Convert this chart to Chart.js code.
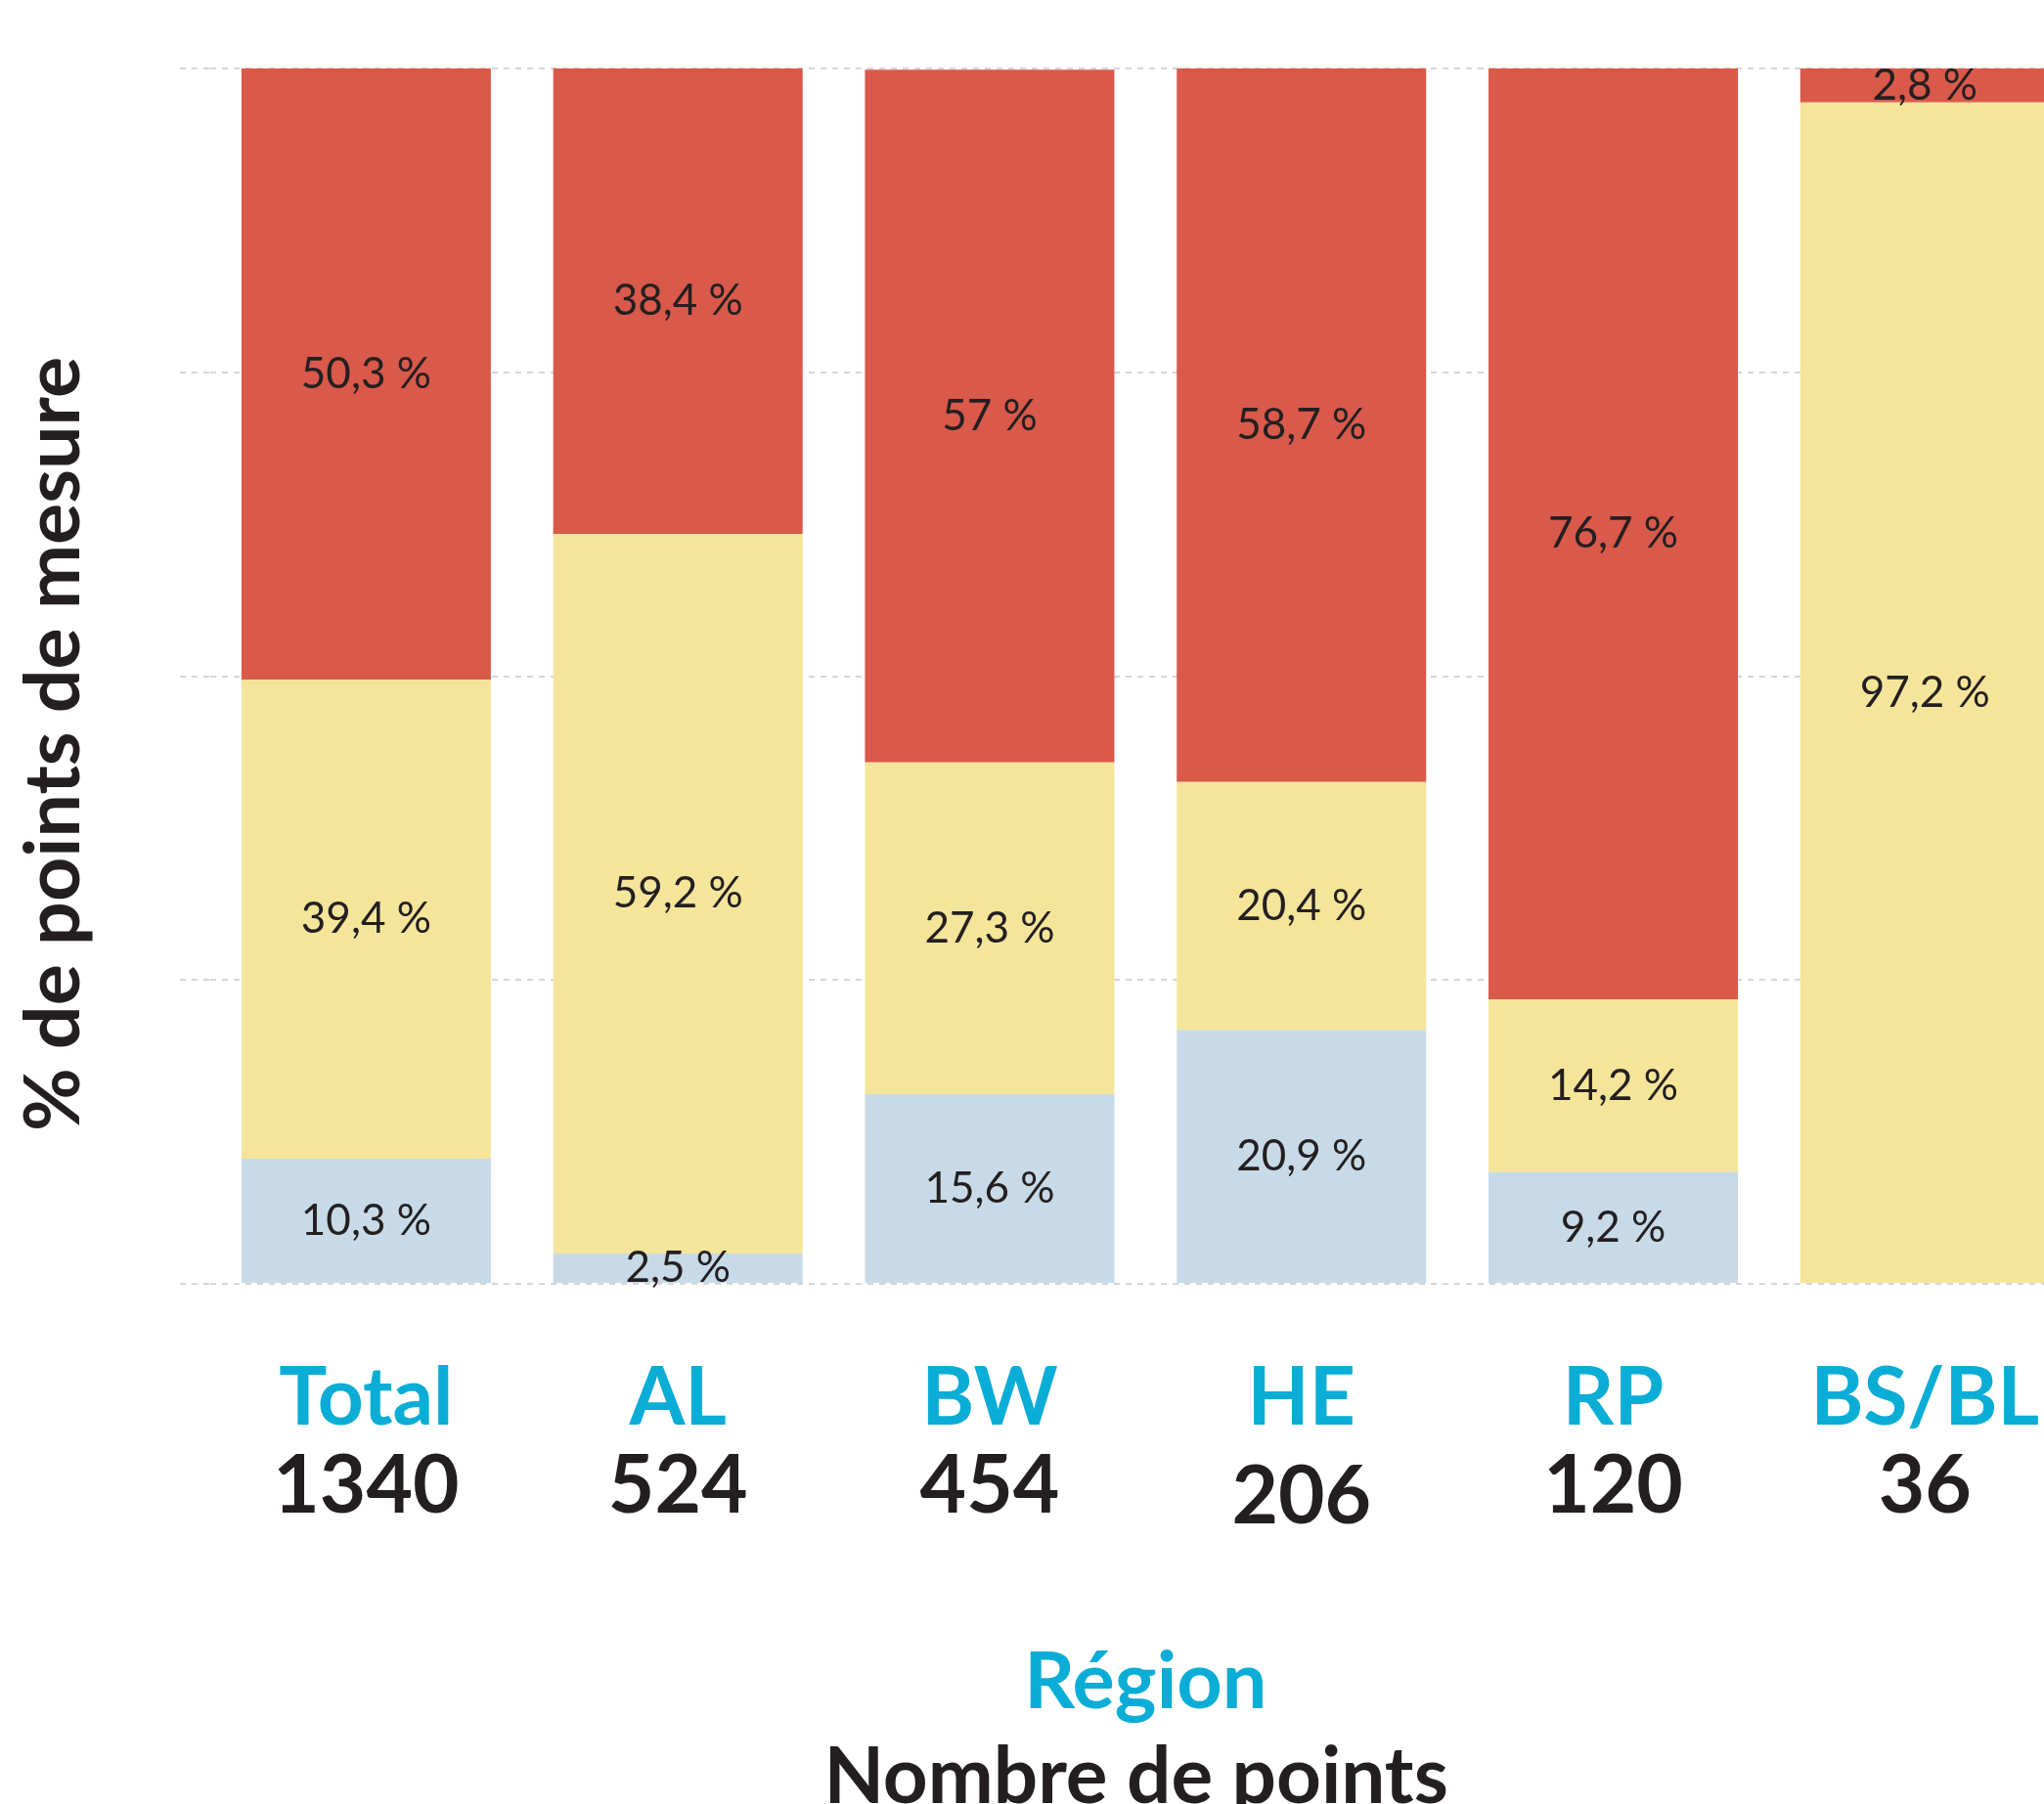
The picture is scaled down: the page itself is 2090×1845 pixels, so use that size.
<!DOCTYPE html>
<html>
<head>
<meta charset="utf-8">
<script src="https://cdn.jsdelivr.net/npm/chart.js@4/dist/chart.umd.min.js"></script>
<style>
  html, body { margin: 0; padding: 0; background: #ffffff; overflow: hidden; }
  #wrap { position: absolute; left: 0; top: 0; width: 2154px; height: 1866px; }
</style>
</head>
<body>
<div id="wrap"><canvas id="chart" width="2154" height="1866"></canvas></div>
<script>
// data
const regions = ['Total', 'AL', 'BW', 'HE', 'RP', 'BS/BL'];
const pointCounts = ['1340', '524', '454', '206', '120', '36'];
const lowShare = [10.3, 2.5, 15.6, 20.9, 9.2, 0];
const midShare = [39.4, 59.2, 27.3, 20.4, 14.2, 97.2];
const highShare = [50.3, 38.4, 57, 58.7, 76.7, 2.8];
const yGridValues = [0, 25, 50, 75, 100];

const yTitle = '% de points de mesure';
const xTitle = 'Région';
// trailing space nudges it a bit left, as in the original
const xSubTitle = 'Nombre de points ';

const CYAN = '#0aadd6';
const DARK = '#231f20';
const GRID = '#d6d6d6';

const fmtPct = (v) => String(v).replace('.', ',') + ' %';

// values written in the middle of each segment
const segmentLabels = {
  id: 'segmentLabels',
  afterDatasetsDraw(chart) {
    const ctx = chart.ctx;
    ctx.save();
    ctx.font = '44px Lato';
    ctx.fillStyle = DARK;
    ctx.textAlign = 'center';
    ctx.textBaseline = 'middle';
    chart.data.datasets.forEach((ds, i) => {
      const meta = chart.getDatasetMeta(i);
      meta.data.forEach((bar, j) => {
        const v = ds.data[j];
        if (!v) return;
        ctx.fillText(fmtPct(v), bar.x, (bar.y + bar.base) / 2);
      });
    });
    ctx.restore();
  }
};

// rotated y title, sits lower than the axis middle in the original
const yAxisTitle = {
  id: 'yAxisTitle',
  afterDraw(chart) {
    const ctx = chart.ctx;
    ctx.save();
    ctx.translate(81, 761);
    ctx.rotate(-Math.PI / 2);
    ctx.font = 'bold 79px Lato';
    ctx.fillStyle = DARK;
    ctx.textAlign = 'center';
    ctx.textBaseline = 'alphabetic';
    ctx.fillText(yTitle, 0, 0);
    ctx.restore();
  }
};

function draw() {
  const bigFont = { family: 'Lato', size: 82, weight: 'bold' };
  const hidden = { display: false };

  new Chart(document.getElementById('chart'), {
    type: 'bar',
    data: {
      labels: regions,
      datasets: [
        { label: 'bas', data: lowShare, backgroundColor: '#c8dae7' },
        { label: 'moyen', data: midShare, backgroundColor: '#f5e59b' },
        { label: 'élevé', data: highShare, backgroundColor: '#d9594a' },
      ],
    },
    options: {
      responsive: false,
      devicePixelRatio: 1,
      animation: false,
      layout: { padding: { top: 70, right: 10, left: 0, bottom: 0 } },
      barPercentage: 0.8,
      categoryPercentage: 1,
      plugins: {
        legend: { display: false },
        tooltip: { enabled: false },
      },
      scales: {
        y: {
          stacked: true,
          min: 0,
          max: 100,
          afterBuildTicks: (scale) => { scale.ticks = yGridValues.map(v => ({ value: v })); },
          afterFit: (scale) => { scale.width = 215; },
          ticks: { display: false },
          grid: {
            color: GRID,
            lineWidth: 2,
            tickLength: 31,
            tickColor: GRID,
            tickWidth: 2,
            tickBorderDash: [6, 6],
          },
          border: { display: false, dash: [6, 6] },
        },
        x: {
          stacked: true,
          weight: 0,
          afterFit: (scale) => { scale.height = 158; },
          grid: { display: false, drawTicks: false },
          border: hidden,
          ticks: { color: CYAN, font: bigFont, padding: 68, maxRotation: 0, autoSkip: false },
        },
        x2: {
          type: 'category',
          position: 'bottom',
          labels: pointCounts,
          weight: 1,
          afterFit: (scale) => { scale.height = 150; },
          grid: { display: false, drawTicks: false },
          border: hidden,
          ticks: {
            color: DARK,
            // the HE count sits a little lower in the original
            font: (c) => ({ ...bigFont, lineHeight: c.index === 3 ? 1.47 : 1.2 }),
            padding: 0,
            maxRotation: 0,
            autoSkip: false,
          },
        },
        x3: {
          type: 'category',
          position: 'bottom',
          labels: regions,
          weight: 2,
          afterFit: (scale) => { scale.height = 148; },
          grid: { display: false, drawTicks: false },
          border: hidden,
          ticks: { display: false },
          title: { display: true, text: xTitle, color: CYAN, font: { ...bigFont, size: 81 }, padding: 0 },
        },
        x4: {
          type: 'category',
          position: 'bottom',
          labels: regions,
          weight: 3,
          afterFit: (scale) => { scale.height = 97; },
          grid: { display: false, drawTicks: false },
          border: hidden,
          ticks: { display: false },
          title: { display: true, text: xSubTitle, color: DARK, font: { ...bigFont, size: 80 }, padding: 0 },
        },
      },
    },
    plugins: [segmentLabels, yAxisTitle],
  });
}

Promise.all([
  document.fonts.load('bold 82px Lato'),
  document.fonts.load('44px Lato'),
]).then(draw, draw);
</script>
</body>
</html>
